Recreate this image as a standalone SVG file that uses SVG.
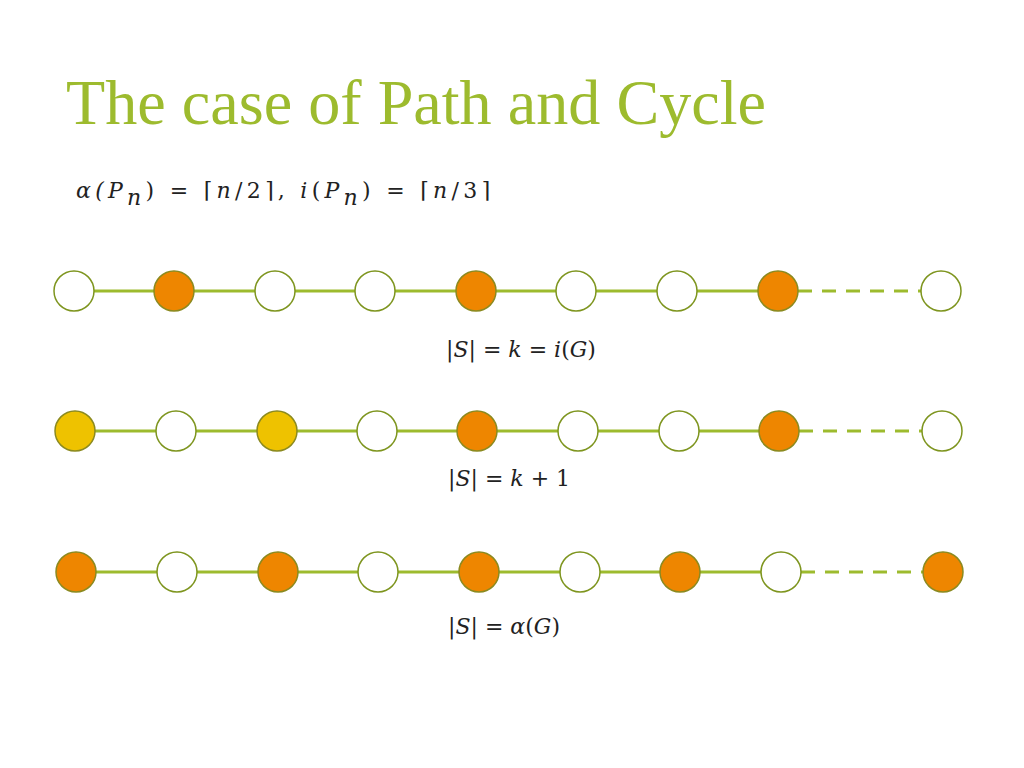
<svg xmlns="http://www.w3.org/2000/svg" width="1024" height="768" viewBox="0 0 1024 768">
<style>
.t{font-family:"Liberation Serif",serif;font-size:64px;fill:#9DBB2E}
.m{font-family:"DejaVu Serif","Liberation Serif",serif;font-size:22px;fill:#222;font-style:italic}
.w{fill:#fff;stroke:#7E951F;stroke-width:1.5}
.o{fill:#EE8600;stroke:#8B8A20;stroke-width:1.5}
.y{fill:#EEC200;stroke:#8B8A20;stroke-width:1.5}
.e{stroke:#9DBB2E;stroke-width:3;fill:none}
.d{stroke:#9DBB2E;stroke-width:3;stroke-dasharray:14,10;fill:none}
</style>
<rect width="1024" height="768" fill="#fff"/>
<text class="t" x="66" y="124" textLength="700" lengthAdjust="spacingAndGlyphs">The case of Path and Cycle</text>
<text class="m" x="76" y="198" font-size="32" textLength="414" lengthAdjust="spacing">α(P<tspan font-size="22" dy="7">n</tspan><tspan dy="-7" font-style="normal">) = ⌈</tspan>n<tspan font-style="normal">/2⌉, </tspan>i<tspan font-style="normal">(</tspan>P<tspan font-size="22" dy="7">n</tspan><tspan dy="-7" font-style="normal">) = ⌈</tspan>n<tspan font-style="normal">/3⌉</tspan></text>
<g id="connectors">
<path class="e" d="M74 291H778"/><path class="d" d="M798 291H921"/>
<path class="e" d="M75 431H779"/><path class="d" d="M799 431H922"/>
<path class="e" d="M76 572H781"/><path class="d" d="M801 572H923"/>
</g>
<g id="row1">
<circle class="w" cx="74" cy="291" r="20"/><circle class="o" cx="174" cy="291" r="20"/><circle class="w" cx="275" cy="291" r="20"/><circle class="w" cx="375" cy="291" r="20"/><circle class="o" cx="476" cy="291" r="20"/><circle class="w" cx="576" cy="291" r="20"/><circle class="w" cx="677" cy="291" r="20"/><circle class="o" cx="778" cy="291" r="20"/><circle class="w" cx="941" cy="291" r="20"/>
</g>
<g id="row2">
<circle class="y" cx="75" cy="431" r="20"/><circle class="w" cx="176" cy="431" r="20"/><circle class="y" cx="277" cy="431" r="20"/><circle class="w" cx="377" cy="431" r="20"/><circle class="o" cx="477" cy="431" r="20"/><circle class="w" cx="578" cy="431" r="20"/><circle class="w" cx="679" cy="431" r="20"/><circle class="o" cx="779" cy="431" r="20"/><circle class="w" cx="942" cy="431" r="20"/>
</g>
<g id="row3">
<circle class="o" cx="76" cy="572" r="20"/><circle class="w" cx="177" cy="572" r="20"/><circle class="o" cx="278" cy="572" r="20"/><circle class="w" cx="378" cy="572" r="20"/><circle class="o" cx="479" cy="572" r="20"/><circle class="w" cx="580" cy="572" r="20"/><circle class="o" cx="680" cy="572" r="20"/><circle class="w" cx="781" cy="572" r="20"/><circle class="o" cx="943" cy="572" r="20"/>
</g>
<text class="m" x="446" y="357"><tspan font-style="normal">|</tspan>S<tspan font-style="normal">| = </tspan>k<tspan font-style="normal"> = </tspan>i<tspan font-style="normal">(</tspan>G<tspan font-style="normal">)</tspan></text>
<text class="m" x="448" y="486"><tspan font-style="normal">|</tspan>S<tspan font-style="normal">| = </tspan>k<tspan font-style="normal"> + 1</tspan></text>
<text class="m" x="448" y="634"><tspan font-style="normal">|</tspan>S<tspan font-style="normal">| = </tspan>α<tspan font-style="normal">(</tspan>G<tspan font-style="normal">)</tspan></text>
</svg>
